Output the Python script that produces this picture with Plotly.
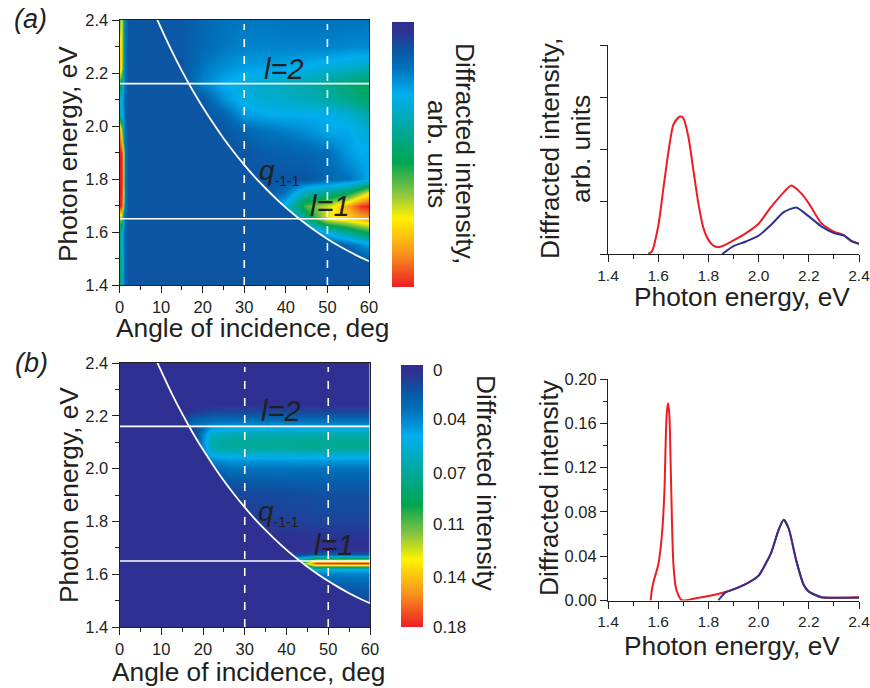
import plotly.graph_objects as go

W, H = 870, 688
INK = "#231f20"
FONT = "Liberation Sans, Arial, sans-serif"
NAVY = "#2e3192"
BASE = "#0b55a3"

# shared colour ramp: position along the bar, colour
ramp_stops = [0.0, 0.03, 0.10, 0.17, 0.27, 0.40, 0.53, 0.65, 0.74, 0.87, 1.0]
ramp_colors = ["#2e3192", "#2e3192", "#0b55a3", "#0072bc", "#00aeef", "#00a99d",
               "#00a651", "#8dc63f", "#fff200", "#f7941d", "#ed1c24"]

# q(-1,-1) curve
q_angle = [9.0, 10, 12.5, 15, 17.5, 20, 22.5, 25, 27.5, 30, 32.5, 35, 37.5, 40, 42.5, 45,
           47.5, 50, 52.5, 55, 57.5, 60]
q_energy = [2.404, 2.369, 2.285, 2.208, 2.137, 2.072, 2.011, 1.954, 1.902, 1.853, 1.808,
            1.767, 1.728, 1.692, 1.659, 1.628, 1.600, 1.574, 1.550, 1.528, 1.508, 1.490]
resonance_l1 = 1.65
resonance_l2 = 2.16
dashed_angles = [30, 50]

# panel (a) map, arbitrary units, 0-1
a_angle = [0, 0.5, 0.85, 1.25, 2.2, 15, 20, 25, 30, 35, 40, 45, 50, 55, 58, 60]
a_energy = [1.40, 1.50, 1.55, 1.60, 1.65, 1.70, 1.75, 1.80, 1.90, 1.98, 2.04, 2.10, 2.16, 2.22, 2.30, 2.40]
a_map = [
    [.53, .40, .20, .14, .10, .10, .10, .10, .10, .10, .10, .10, .10, .10, .10, .10],
    [.50, .35, .20, .14, .10, .10, .10, .10, .10, .10, .10, .10, .10, .10, .11, .13],
    [.50, .33, .20, .14, .10, .10, .10, .10, .10, .10, .10, .10, .10, .14, .20, .25],
    [.50, .32, .20, .14, .10, .10, .10, .10, .10, .10, .10, .10, .30, .42, .50, .55],
    [.60, .65, .30, .15, .10, .10, .10, .10, .10, .10, .10, .45, .72, .78, .82, .85],
    [1.0, .98, .65, .20, .10, .10, .10, .10, .10, .10, .30, .60, .70, .85, .97, 1.0],
    [1.0, 1.0, .75, .20, .10, .10, .10, .10, .10, .10, .17, .36, .41, .50, .62, .72],
    [1.0, 1.0, .80, .20, .10, .10, .10, .10, .10, .10, .10, .10, .14, .17, .22, .27],
    [1.0, 1.0, .75, .20, .10, .10, .10, .10, .10, .12, .13, .14, .16, .24, .27, .26],
    [.90, .70, .30, .15, .10, .10, .10, .10, .14, .17, .19, .22, .26, .26, .30, .32],
    [.40, .30, .22, .14, .10, .10, .10, .13, .24, .26, .27, .27, .27, .31, .35, .38],
    [.30, .27, .20, .14, .10, .10, .10, .22, .29, .32, .33, .35, .38, .43, .47, .48],
    [.55, .45, .25, .15, .10, .10, .20, .27, .30, .33, .35, .38, .42, .47, .50, .52],
    [.80, .75, .40, .18, .10, .10, .18, .22, .25, .25, .26, .28, .31, .33, .35, .35],
    [.75, .80, .45, .18, .10, .11, .15, .18, .20, .20, .20, .20, .20, .21, .21, .21],
    [.60, .75, .45, .20, .10, .11, .14, .17, .18, .18, .17, .17, .17, .17, .17, .18],
]

# panel (b) map, diffracted intensity
b_angle = [0, 15, 18, 22, 26, 44, 47, 60]
b_energy = [1.40, 1.47, 1.50, 1.55, 1.60, 1.618, 1.627, 1.634, 1.641, 1.65, 1.66, 1.669, 1.675, 1.69,
            1.72, 1.80, 1.90, 1.95, 2.00, 2.03, 2.05, 2.07, 2.09, 2.11, 2.13, 2.15, 2.165, 2.19,
            2.22, 2.25, 2.30, 2.40]
b_map = [
    [0, 0, 0, 0, 0, 0, .000, .000],
    [0, 0, 0, 0, 0, 0, .000, .010],
    [0, 0, 0, 0, 0, 0, .012, .014],
    [0, 0, 0, 0, 0, 0, .018, .022],
    [0, 0, 0, 0, 0, 0, .033, .036],
    [0, 0, 0, 0, 0, .03, .050, .050],
    [0, 0, 0, 0, 0, .06, .095, .095],
    [0, 0, 0, 0, 0, .09, .135, .135],
    [0, 0, 0, 0, 0, .11, .175, .180],
    [0, 0, 0, 0, 0, .09, .130, .130],
    [0, 0, 0, 0, 0, .06, .095, .095],
    [0, 0, 0, 0, 0, .03, .045, .045],
    [0, 0, 0, 0, 0, .012, .020, .020],
    [0, 0, 0, 0, 0, .004, .004, .004],
    [0, 0, 0, 0, .002, .004, .005, .005],
    [0, 0, 0, 0, .008, .011, .012, .012],
    [0, 0, 0, 0, .012, .015, .016, .016],
    [0, 0, 0, .012, .018, .022, .022, .022],
    [0, 0, 0, .024, .030, .030, .030, .030],
    [0, 0, .006, .036, .040, .041, .041, .041],
    [0, 0, .008, .050, .054, .055, .055, .055],
    [0, 0, .01, .062, .068, .070, .070, .070],
    [0, 0, .01, .068, .074, .076, .076, .076],
    [0, 0, .012, .066, .072, .074, .074, .074],
    [0, 0, .012, .060, .066, .068, .068, .068],
    [0, 0, .012, .046, .052, .053, .053, .053],
    [0, .02, .030, .038, .040, .040, .040, .040],
    [0, .01, .020, .024, .025, .025, .025, .025],
    [0, .004, .008, .012, .012, .012, .012, .012],
    [0, .002, .003, .004, .004, .004, .004, .004],
    [0, 0, .002, .002, .002, .002, .002, .002],
    [0, 0, .0015, .0015, .0015, .0015, .0015, .0015],
]

# right-hand spectra, panel (a)
sa_red_x = [1.56, 1.575, 1.60, 1.62, 1.64, 1.66, 1.68, 1.69, 1.70, 1.72, 1.74, 1.76, 1.78, 1.80, 1.82,
            1.84, 1.86, 1.90, 1.95, 2.00, 2.05, 2.10, 2.13, 2.17, 2.20, 2.25, 2.30, 2.34, 2.37, 2.40]
sa_red_y = [0, .05, .53, 1.23, 1.93, 2.47, 2.61, 2.63, 2.60, 2.25, 1.61, .97, .50, .27, .16,
            .13, .16, .26, .40, .58, .90, 1.18, 1.31, 1.16, .97, .59, .43, .36, .24, .20]
sa_blue_x = [1.855, 1.90, 1.95, 2.00, 2.05, 2.10, 2.15, 2.20, 2.25, 2.30, 2.34, 2.37, 2.40]
sa_blue_y = [0, .15, .24, .35, .56, .80, .89, .72, .53, .40, .35, .25, .19]

# right-hand spectra, panel (b)
sb_red_x = [1.57, 1.575, 1.585, 1.60, 1.615, 1.625, 1.63, 1.635, 1.64, 1.645, 1.65, 1.655, 1.66, 1.67,
            1.68, 1.69, 1.70, 1.75, 1.80, 1.85, 1.90, 1.95, 2.00, 2.03, 2.05, 2.08, 2.10, 2.12, 2.15, 2.18,
            2.20, 2.25, 2.30, 2.40]
sb_red_y = [0, .010, .020, .032, .060, .100, .145, .172, .178, .165, .120, .070, .035, .012,
            .005, .001, 0, .002, .004, .0065, .010, .015, .0225, .034, .043, .064, .073, .065, .036, .014,
            .008, .003, .0025, .003]
sb_blue_x = [1.84, 1.85, 1.87, 1.90, 1.95, 2.00, 2.03, 2.05, 2.08, 2.10, 2.12, 2.15, 2.18, 2.20, 2.25, 2.30, 2.40]
sb_blue_y = [0, .003, .0075, .010, .015, .0225, .034, .043, .064, .073, .065, .036, .014, .008, .003, .0025, .0025]

b_bar_max = 0.18
b_bar_labels = ["0", "0.04", "0.07", "0.11", "0.14", "0.18"]
b_bar_label_pos = [0.0035, 0.037, 0.074, 0.109, 0.146, 0.18]
sa_major = [0, 1, 2, 3, 4]
sb_major = [0, .04, .08, .12, .16, .20]
sb_labels = ["0.00", "0.04", "0.08", "0.12", "0.16", "0.20"]
spectrum_ticks = [1.4, 1.6, 1.8, 2.0, 2.2, 2.4]
spectrum_labels = ["1.4", "1.6", "1.8", "2.0", "2.2", "2.4"]

cs = [[s, c] for s, c in zip(ramp_stops, ramp_colors)]


def dom_x(a, b):
    return [a / W, b / W]


def dom_y(top, bottom):
    return [1 - bottom / H, 1 - top / H]


fig = go.Figure()
layout = dict(width=W, height=H, margin=dict(l=0, r=0, t=0, b=0, autoexpand=False), showlegend=False,
              paper_bgcolor="white", plot_bgcolor="white",
              font=dict(family=FONT, color=INK, size=16))
TICK = dict(showgrid=False, zeroline=False, showline=True, linecolor=INK, linewidth=1,
            ticks="outside", tickcolor=INK, ticklen=7, tickwidth=1,
            tickfont=dict(size=16.5, color=INK, family=FONT))


def add_map(n, ax_box, x, y, z, zmax, mask_color, mask_x0):
    left, right, top, bottom = ax_box
    xa, ya = ("x", "y") if n == 1 else (f"x{n}", f"y{n}")
    fig.add_trace(go.Heatmap(x=x, y=y, z=z, zmin=0, zmax=zmax, colorscale=cs, zsmooth="best",
                             showscale=False, xaxis=xa, yaxis=ya))
    fig.add_trace(go.Scatter(x=[mask_x0] + q_angle + [60, mask_x0],
                             y=[2.4] + q_energy + [1.4, 1.4],
                             mode="lines", fill="toself", fillcolor=mask_color,
                             line=dict(width=0), xaxis=xa, yaxis=ya, hoverinfo="skip"))
    for e in (resonance_l1, resonance_l2):
        fig.add_trace(go.Scatter(x=[0, 60], y=[e, e], mode="lines",
                                 line=dict(color="white", width=1.6), xaxis=xa, yaxis=ya))
    for ang in dashed_angles:
        fig.add_trace(go.Scatter(x=[ang, ang], y=[1.4, 2.385], mode="lines",
                                 line=dict(color="white", width=1.6, dash="8px,9px"), xaxis=xa, yaxis=ya))
    fig.add_trace(go.Scatter(x=q_angle, y=q_energy, mode="lines",
                             line=dict(color="white", width=1.8, shape="spline"), xaxis=xa, yaxis=ya))
    suffix = "" if n == 1 else str(n)
    layout["xaxis" + suffix] = dict(TICK, domain=dom_x(left, right), range=[0, 60], anchor=ya, mirror=True,
                                    tickvals=[0, 10, 20, 30, 40, 50, 60],
                                    minor=dict(tickvals=[5, 15, 25, 35, 45, 55], ticks="outside", ticklen=4,
                                               tickcolor=INK, showgrid=False))
    layout["yaxis" + suffix] = dict(TICK, domain=dom_y(top, bottom), range=[1.4, 2.4], anchor=xa, mirror=True,
                                    tickvals=spectrum_ticks, ticktext=spectrum_labels,
                                    minor=dict(tickvals=[1.5, 1.7, 1.9, 2.1, 2.3], ticks="outside", ticklen=4,
                                               tickcolor=INK, showgrid=False))


def add_bar(n, box, zmax, tickvals=None, ticktext=None):
    left, right, top, bottom = box
    xa, ya = f"x{n}", f"y{n}"
    vals = [s * zmax for s in ramp_stops]
    fig.add_trace(go.Heatmap(x=[0, 1], y=vals, z=[[v, v] for v in vals], zmin=0, zmax=zmax, colorscale=cs,
                             zsmooth="best", showscale=False, xaxis=xa, yaxis=ya))
    layout[f"xaxis{n}"] = dict(domain=dom_x(left, right), range=[0, 1], anchor=ya, visible=False)
    y_ax = dict(domain=dom_y(top, bottom), range=[zmax, 0], anchor=xa, side="right", showgrid=False,
                zeroline=False, showline=False, ticks="", visible=tickvals is not None)
    if tickvals is not None:
        y_ax.update(tickvals=tickvals, ticktext=ticktext, tickfont=dict(size=17, color=INK, family=FONT),
                    ticklabelstandoff=9, ticklabeloverflow="allow")
    layout[f"yaxis{n}"] = y_ax


def add_spectrum(n, box, red, blue, yrange, ytickvals, yticktext, yminor):
    left, right, top, bottom = box
    xa, ya = f"x{n}", f"y{n}"
    fig.add_trace(go.Scatter(x=red[0], y=red[1], mode="lines",
                             line=dict(color="#ed1c24", width=2, shape="spline", smoothing=0.6),
                             xaxis=xa, yaxis=ya, cliponaxis=False))
    fig.add_trace(go.Scatter(x=blue[0], y=blue[1], mode="lines",
                             line=dict(color="#2e3192", width=2, shape="spline", smoothing=0.6),
                             xaxis=xa, yaxis=ya, cliponaxis=False))
    layout[f"xaxis{n}"] = dict(TICK, domain=dom_x(left, right), range=[1.4, 2.4], anchor=ya,
                               tickvals=spectrum_ticks, ticktext=spectrum_labels,
                               tickfont=dict(size=15.5, color=INK, family=FONT),
                               ticklabeloverflow="allow",
                               minor=dict(tickvals=[1.5, 1.7, 1.9, 2.1, 2.3], ticks="outside", ticklen=4,
                                          tickcolor=INK, showgrid=False))
    y_ax = dict(TICK, domain=dom_y(top, bottom), range=yrange, anchor=xa, tickvals=ytickvals)
    if yticktext:
        y_ax["ticktext"] = yticktext
    else:
        y_ax["showticklabels"] = False
    if yminor:
        y_ax["minor"] = dict(tickvals=yminor, ticks="outside", ticklen=4, tickcolor=INK, showgrid=False)
    layout[f"yaxis{n}"] = y_ax


add_map(1, (119.5, 369, 20, 285), a_angle, a_energy, a_map, 1.0, BASE, 2.2)
add_bar(2, (392, 414, 22, 287), 1.0)
add_spectrum(3, (608, 859, 45, 254), (sa_red_x, sa_red_y), (sa_blue_x, sa_blue_y), [0, 4], sa_major, None, None)
add_map(4, (119.5, 370, 363, 627), b_angle, b_energy, b_map, b_bar_max, NAVY, 0)
add_bar(5, (401, 423, 365, 627), b_bar_max, b_bar_label_pos, b_bar_labels)
add_spectrum(6, (608, 859, 379, 600.5), (sb_red_x, sb_red_y), (sb_blue_x, sb_blue_y), [0, .2], sb_major,
             sb_labels, [.02, .06, .10, .14, .18])


def label(text, px, py, size=26.3, angle=0, italic=False):
    return dict(text=text, x=px / W, y=1 - py / H, xref="paper", yref="paper", xanchor="center", yanchor="middle",
                showarrow=False, textangle=angle,
                font=dict(size=size, color=INK, family=FONT, style="italic" if italic else "normal"))


Q_TEXT = '<i>q</i><sub><span style="font-size:14px">-1-1</span></sub>'
layout["annotations"] = [
    label("(a)", 30, 19, 27, italic=True),
    label("(b)", 31, 363, 27, italic=True),
    label("Photon energy, eV", 68, 154, angle=-90),
    label("Angle of incidence, deg", 252, 328),
    label("Photon energy, eV", 69, 495, angle=-90),
    label("Angle of incidence, deg", 248, 672),
    label("Diffracted intensity,", 465, 154, angle=90),
    label("arb. units", 437, 154, angle=90),
    label("Diffracted intensity", 486, 483, angle=90),
    label("Diffracted intensity,", 550, 149, angle=-90),
    label("arb. units", 581, 149, angle=-90),
    label("Photon energy, eV", 742, 297),
    label("Diffracted intensity", 549, 488, angle=-90),
    label("Photon energy, eV", 732, 646),
    label("l=2", 284, 69, 29, italic=True),
    label("l=1", 330, 206, 29, italic=True),
    label(Q_TEXT, 279, 172, 28),
    label("l=2", 281, 411, 29, italic=True),
    label("l=1", 334, 545, 29, italic=True),
    label(Q_TEXT, 278, 513, 28),
]

fig.update_layout(**layout)
fig.write_html("out.html", post_script="document.body.style.margin='0';",
               config=dict(displayModeBar=False))
